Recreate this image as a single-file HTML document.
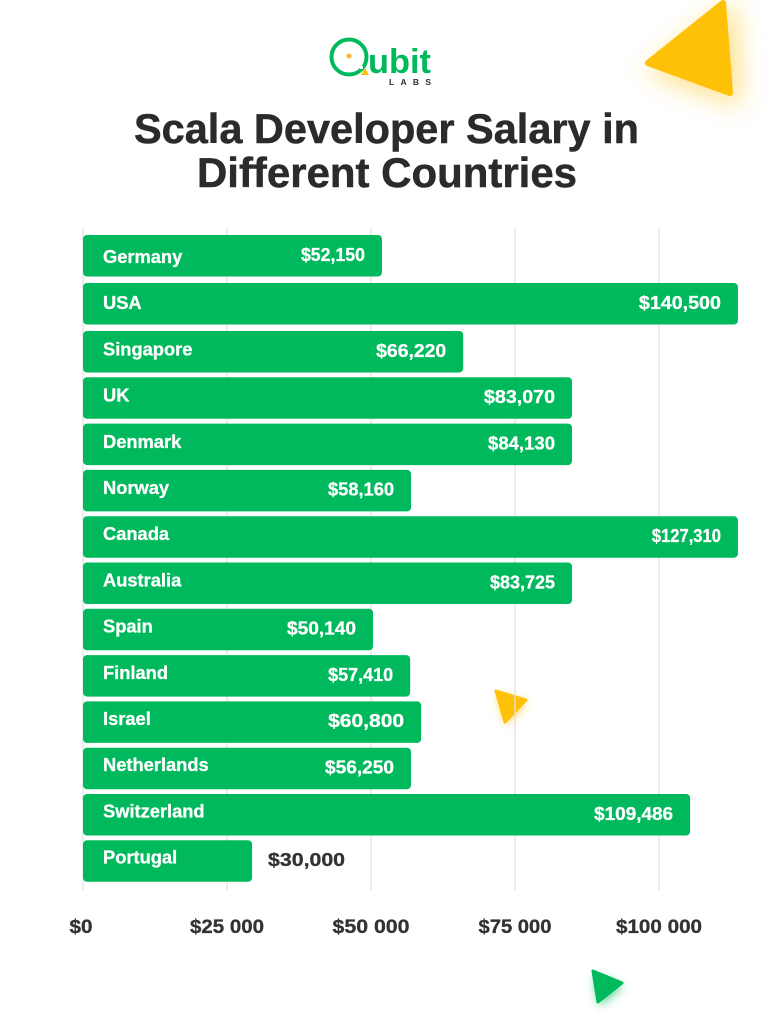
<!DOCTYPE html>
<html lang="en">
<head>
<meta charset="utf-8">
<title>Scala Developer Salary in Different Countries</title>
<style>
html,body{margin:0;padding:0;background:#fff;}
body{width:774px;height:1024px;overflow:hidden;}
svg{display:block;}
text{font-family:"Liberation Sans",sans-serif;font-weight:700;}
</style>
</head>
<body>
<svg id="chart" xmlns="http://www.w3.org/2000/svg" width="774" height="1024" viewBox="0 0 774 1024">
  <defs>
    <filter id="glow-big" x="-60%" y="-60%" width="220%" height="220%"><feGaussianBlur stdDeviation="13"/></filter>
    <filter id="glow-small" x="-60%" y="-60%" width="220%" height="220%"><feGaussianBlur stdDeviation="5"/></filter>
  </defs>
  <rect width="774" height="1024" fill="#ffffff"/>

  <g>
    <polygon points="726,2 649,63 731,93" transform="translate(5,7)" fill="#ffc107" opacity="0.5" stroke="#ffc107" stroke-width="8" filter="url(#glow-big)"/>
    <polygon points="723,3 648,63 730,93" fill="#ffc107" stroke="#ffc107" stroke-width="6" stroke-linejoin="round"/>
  </g>
  <g>
    <polygon points="496,691 526,700 505,722" transform="translate(1,3)" fill="#ffc107" opacity="0.65" filter="url(#glow-small)"/>
    <polygon points="496,691 526,700 505,722" fill="#ffc107" stroke="#ffc107" stroke-width="3" stroke-linejoin="round"/>
  </g>
  <g>
    <polygon points="593,971 622,983 598,1002" transform="translate(1,4)" fill="#00b95c" opacity="0.65" filter="url(#glow-small)"/>
    <polygon points="593,971 622,983 598,1002" fill="#00b95c" stroke="#00b95c" stroke-width="3" stroke-linejoin="round"/>
  </g>

  <g>
    <circle cx="349" cy="57" r="17.5" fill="none" stroke="#00b95c" stroke-width="4"/>
    <circle cx="349" cy="56" r="2.6" fill="#f2b93b"/>
    <polygon points="365,68 369,75 361,75" fill="#ffc107"/>
    <rect x="360" y="66" width="3" height="3" fill="#fff"/>
    <text x="368" y="73" font-size="34" fill="#00b95c" textLength="63" lengthAdjust="spacingAndGlyphs">ubit</text>
    <text x="389" y="85" font-size="8.5" fill="#2e2e2e" textLength="42" lengthAdjust="spacing">LABS</text>
  </g>

  <text x="134" y="143" font-size="41.5" fill="#2b2b2b" stroke="#2b2b2b" stroke-width="0.5" textLength="505" lengthAdjust="spacingAndGlyphs">Scala Developer Salary in</text>
  <text x="197" y="187" font-size="41.5" fill="#2b2b2b" stroke="#2b2b2b" stroke-width="0.5" textLength="380" lengthAdjust="spacingAndGlyphs">Different Countries</text>

  <g id="grid"></g>
  <g id="bars"></g>
  <g id="axis"></g>
</svg>
<script>
const countries = ["Germany","USA","Singapore","UK","Denmark","Norway","Canada","Australia","Spain","Finland","Israel","Netherlands","Switzerland","Portugal"];
const barValues = [51900,113700,66000,84900,84900,56950,113700,84900,50350,56800,58700,56950,105400,29350];
const valueLabels = ["$52,150","$140,500","$66,220","$83,070","$84,130","$58,160","$127,310","$83,725","$50,140","$57,410","$60,800","$56,250","$109,486","$30,000"];
const tickValues = [0,25000,50000,75000,100000];
const tickLabels = ["$0","$25 000","$50 000","$75 000","$100 000"];

const NS = "http://www.w3.org/2000/svg";
const GREEN = "#00b95c";
const glyphWidths = {"$":10,"0":13,"1":6,"2":10,"3":10,"4":12,"5":10,"6":11,"7":9,"8":11,"9":11,",":5," ":5};

function xScale(v){ return 83 + v * 0.00576; }
function barTop(i){ return 235 + (i <= 2 ? 48 * i : 96 + 46.3 * (i - 2)); }
function nameCenter(i){ return 257 + 46.2 * i; }
function textWidth(s){
  let w = 0;
  for (const ch of s) w += glyphWidths[ch] || 10;
  return w;
}
function make(tag, attrs){
  const el = document.createElementNS(NS, tag);
  for (const k in attrs) el.setAttribute(k, attrs[k]);
  return el;
}

const grid = document.getElementById("grid");
const bars = document.getElementById("bars");
const axis = document.getElementById("axis");

tickValues.forEach(function(v, i){
  const x = xScale(v);
  const line = make("line", {x1:x, x2:x, y1:228, y2:890, stroke:"#e2e2e2", "stroke-width":1.3});
  
  
  grid.appendChild(line);

  const label = make("text", {x:v === 0 ? x - 2 : x, y:933, "font-size":19, fill:"#333333", "text-anchor":"middle",
    stroke:"#333333", "stroke-width":0.3,
    textLength:textWidth(tickLabels[i]), lengthAdjust:"spacingAndGlyphs"});
  
  
  label.textContent = tickLabels[i];
  axis.appendChild(label);
});

countries.forEach(function(name, i){
  const top = barTop(i);
  const h = 41.5;
  const end = xScale(barValues[i]);
  const w = end - 83;

  const bar = make("rect", {x:83, y:top, width:w, height:h, rx:4, ry:4, fill:GREEN});
  
  
  bars.appendChild(bar);

  const nameText = make("text", {x:103, y:nameCenter(i) + 6, "font-size":18.3, fill:"#ffffff", stroke:"#ffffff", "stroke-width":0.3});
  
  
  nameText.textContent = name;
  bars.appendChild(nameText);

  const vw = textWidth(valueLabels[i]);
  const outside = w < vw + 115;
  const valueText = make("text", {
    x: outside ? end + 16 : end - 17,
    y: top + h / 2 + 5,
    "font-size": 18,
    fill: outside ? "#333333" : "#ffffff",
    stroke: outside ? "#333333" : "#ffffff",
    "stroke-width": 0.3,
    "text-anchor": outside ? "start" : "end",
    textLength: vw,
    lengthAdjust: "spacingAndGlyphs"
  });
  
  
  valueText.textContent = valueLabels[i];
  bars.appendChild(valueText);
});
</script>
</body>
</html>
